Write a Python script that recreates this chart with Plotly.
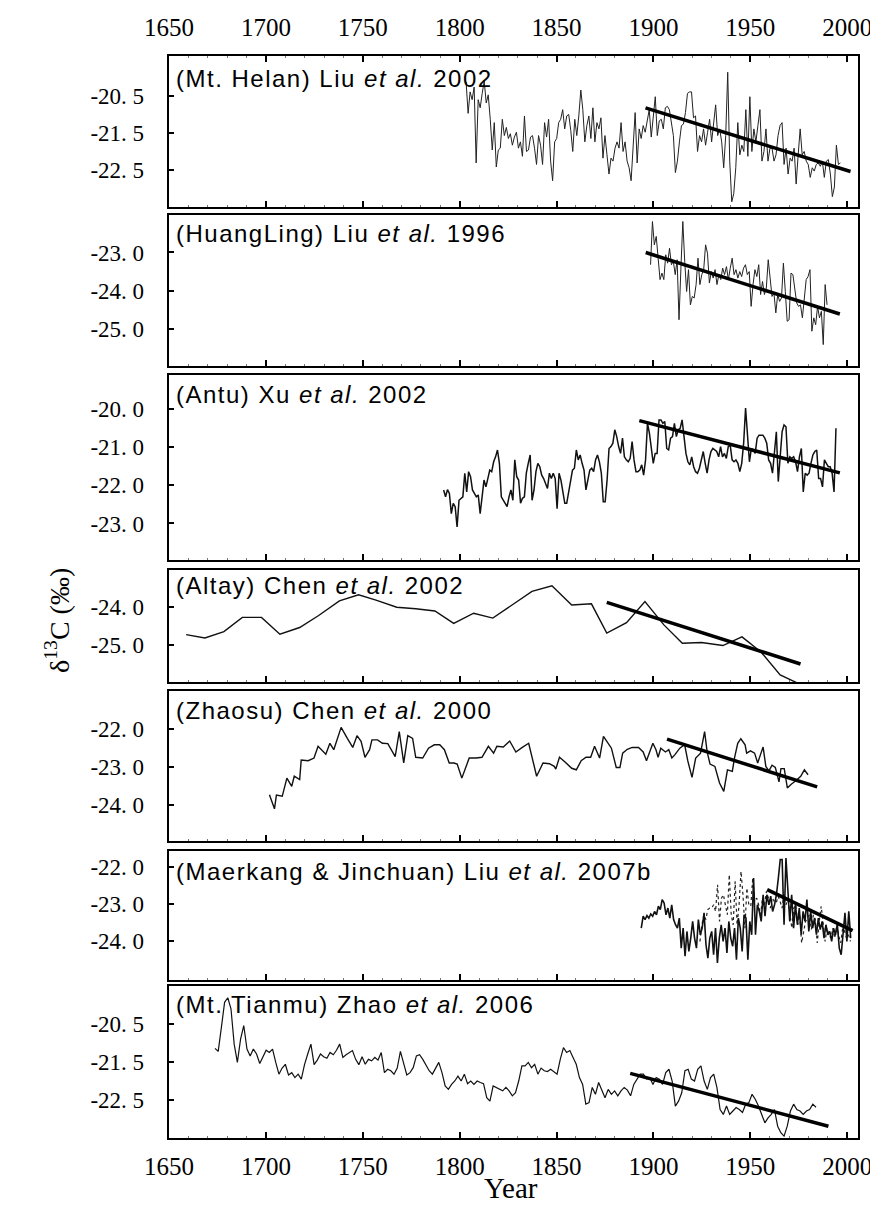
import numpy as np
import plotly.graph_objects as go

W, H = 878, 1208

# ---------------- data ----------------
tick_years = [1650, 1700, 1750, 1800, 1850, 1900, 1950, 2000]

# Panel 1: Mt. Helan (Liu et al. 2002)
helan_span = [1803.3, 1996.5]
helan_d13c = [-20.12, -20.97, -20.39, -20.60, -20.26, -22.31, -20.60, -20.82, -20.43, -20.10,
              -20.69, -20.47, -21.13, -21.96, -21.22, -22.42, -21.96, -21.91, -21.13, -21.57,
              -21.35, -21.65, -21.52, -21.83, -21.61, -21.48, -21.91, -21.74, -22.13, -21.04,
              -22.00, -21.96, -21.61, -21.57, -21.91, -22.35, -21.57, -21.83, -22.35, -21.22,
              -21.61, -21.13, -22.26, -22.79, -21.74, -21.65, -21.22, -21.13, -20.87, -21.39,
              -21.04, -21.00, -21.43, -22.00, -21.13, -21.57, -21.04, -20.34, -20.87, -21.74,
              -21.30, -21.04, -21.65, -20.82, -21.74, -21.22, -21.39, -21.09, -22.18, -21.57,
              -22.09, -22.61, -22.18, -22.26, -21.91, -21.74, -21.91, -21.22, -22.00, -21.74,
              -22.26, -22.44, -22.79, -21.91, -20.95, -22.31, -21.39, -21.65, -21.30, -21.48,
              -21.13, -20.87, -21.61, -21.04, -20.52, -21.57, -21.17, -21.13, -21.39, -20.82,
              -20.78, -20.87, -21.22, -21.57, -22.57, -22.26, -21.74, -21.30, -21.26, -20.95,
              -20.43, -20.39, -20.39, -21.09, -21.04, -22.00, -21.57, -21.74, -21.39, -21.83,
              -21.48, -21.13, -21.74, -21.22, -20.74, -21.57, -21.39, -21.74, -22.44, -21.57,
              -19.86, -22.26, -23.36, -23.14, -22.44, -21.22, -22.09, -21.83, -22.00, -20.87,
              -22.13, -20.52, -22.00, -21.39, -21.74, -21.30, -20.87, -22.26, -22.00, -21.39,
              -22.26, -21.91, -21.91, -22.26, -22.09, -21.57, -21.30, -21.22, -22.35, -21.91,
              -22.61, -22.18, -22.26, -21.91, -22.88, -22.09, -21.39, -22.09, -22.00, -22.26,
              -22.35, -22.70, -22.44, -22.53, -22.35, -22.31, -22.40, -22.26, -22.70, -22.26,
              -22.22, -22.61, -23.22, -22.96, -21.83, -22.35, -22.31]
helan_trend_year = [1895.9, 2001.7]
helan_trend_d13c = [-20.82, -22.54]

# Panel 2: HuangLing (Liu et al. 1996)
huangling_span = [1898.5, 1989.6]
huangling_d13c = [-23.32, -22.19, -22.80, -22.58, -23.15, -23.71, -23.54, -23.71, -23.06, -23.28,
                  -22.89, -23.32, -23.23, -23.58, -23.19, -24.76, -23.41, -22.19, -23.23, -24.02,
                  -23.45, -24.37, -24.15, -24.19, -23.84, -23.15, -23.84, -23.58, -23.45, -22.80,
                  -23.02, -23.80, -23.50, -23.67, -23.45, -23.84, -23.58, -23.71, -23.41, -23.58,
                  -23.37, -23.71, -23.41, -23.15, -23.58, -23.45, -23.67, -23.50, -23.63, -23.41,
                  -23.32, -23.58, -23.50, -24.41, -23.84, -23.45, -23.63, -23.32, -24.10, -23.76,
                  -24.10, -23.93, -23.19, -23.67, -24.15, -24.06, -24.58, -24.10, -24.28, -24.19,
                  -23.28, -24.02, -24.80, -24.76, -23.54, -23.58, -24.02, -24.32, -24.41, -24.37,
                  -24.71, -24.28, -23.71, -23.63, -23.45, -25.06, -24.71, -24.89, -24.41, -24.71,
                  -24.54, -25.41, -23.84, -24.37]
huangling_trend_year = [1896.0, 1996.2]
huangling_trend_d13c = [-23.00, -24.61]

# Panel 3: Antu (Xu et al. 2002)
antu_span = [1791.7, 1994.2]
antu_d13c = [-22.12, -22.30, -22.11, -22.21, -22.74, -22.47, -22.56, -23.09, -22.39, -22.34,
             -22.30, -21.68, -22.17, -21.64, -21.77, -22.12, -22.21, -22.30, -22.25, -22.74,
             -22.30, -21.86, -22.04, -21.82, -21.60, -21.64, -21.38, -21.25, -21.07, -21.42,
             -22.30, -22.39, -22.47, -22.56, -22.30, -22.12, -22.39, -21.33, -21.77, -21.86,
             -22.47, -22.34, -22.30, -21.68, -21.42, -21.20, -22.39, -22.12, -21.64, -21.42,
             -21.51, -21.73, -21.82, -21.95, -22.08, -21.68, -21.82, -21.68, -21.82, -22.61,
             -21.68, -21.86, -22.17, -22.47, -22.47, -22.17, -21.95, -21.60, -21.55, -21.07,
             -21.33, -21.20, -21.42, -21.60, -22.12, -21.86, -21.60, -21.55, -21.64, -21.33,
             -21.20, -21.38, -21.68, -22.43, -22.43, -21.86, -21.03, -20.98, -20.89, -20.54,
             -20.72, -20.98, -21.16, -20.76, -21.25, -21.33, -21.38, -21.29, -20.85, -21.33,
             -21.64, -21.64, -21.60, -21.46, -21.73, -21.33, -20.37, -20.63, -20.98, -21.42,
             -21.16, -21.16, -20.28, -20.28, -20.37, -20.32, -21.03, -21.07, -20.76, -20.72,
             -20.37, -20.72, -20.54, -20.50, -20.28, -20.68, -21.16, -21.38, -21.46, -21.25,
             -21.51, -21.64, -21.68, -21.55, -21.29, -21.11, -21.42, -21.68, -21.33, -21.11,
             -21.03, -21.07, -21.11, -21.25, -20.98, -21.25, -21.16, -21.29, -20.98, -20.94,
             -21.33, -21.38, -21.33, -21.42, -21.64, -21.42, -20.89, -19.97, -20.63, -21.38,
             -21.03, -21.07, -21.16, -20.76, -20.68, -20.68, -20.68, -20.76, -20.89, -21.33,
             -21.42, -21.68, -21.16, -20.59, -21.90, -21.16, -20.59, -20.41, -20.46, -21.42,
             -21.25, -21.29, -21.25, -21.38, -21.64, -21.25, -21.03, -22.17, -21.68, -21.73,
             -21.68, -21.42, -21.20, -21.11, -21.07, -21.82, -21.82, -22.04, -21.33, -21.42,
             -21.51, -21.51, -21.68, -22.17, -20.50]
antu_trend_year = [1892.7, 1996.2]
antu_trend_d13c = [-20.30, -21.67]

# Panel 4: Altay (Chen et al. 2002)
altay_year = [1658.8, 1668.5, 1678.3, 1687.8, 1697.7, 1707.2, 1717.4, 1727.2, 1737.9, 1747.8,
              1756.8, 1767.5, 1777.3, 1787.2, 1796.9, 1807.2, 1817.1, 1827.4, 1837.3, 1847.6,
              1857.8, 1868.0, 1875.9, 1886.1, 1895.6, 1905.4, 1914.9, 1924.8, 1935.8, 1945.7,
              1955.5, 1965.4, 1974.4]
altay_d13c = [-24.73, -24.82, -24.65, -24.27, -24.27, -24.72, -24.54, -24.22, -23.83, -23.67,
              -23.81, -24.00, -24.04, -24.10, -24.43, -24.16, -24.29, -23.94, -23.58, -23.43,
              -23.94, -23.91, -24.69, -24.41, -23.85, -24.47, -24.96, -24.94, -25.02, -24.79,
              -25.19, -25.80, -26.02]
altay_trend_year = [1875.9, 1975.9]
altay_trend_d13c = [-23.87, -25.51]

# Panel 5: Zhaosu (Chen et al. 2000)
zhaosu_year = [1701.8, 1704.4, 1705.4, 1708.4, 1710.8, 1713.3, 1714.6, 1717.4, 1718.2, 1721.8,
               1724.8, 1726.9, 1730.9, 1733.0, 1735.0, 1738.8, 1742.0, 1744.8, 1747.0, 1749.1,
               1751.1, 1753.5, 1754.7, 1757.6, 1760.1, 1762.9, 1766.7, 1768.8, 1771.1, 1773.2,
               1775.7, 1777.3, 1780.9, 1783.9, 1786.9, 1789.7, 1792.1, 1794.6, 1797.0,
               1798.7, 1801.1, 1804.9, 1808.5, 1811.5, 1814.8, 1817.5, 1819.2, 1822.5, 1825.8,
               1829.0, 1832.3, 1835.6, 1839.7, 1843.0, 1846.3, 1848.8, 1849.6, 1851.5, 1854.5,
               1857.8, 1860.2, 1862.7, 1865.2, 1867.6, 1869.6, 1870.9, 1872.2, 1874.2, 1876.7,
               1878.3, 1880.8, 1882.7, 1884.1, 1886.5, 1889.0, 1892.3, 1894.7, 1896.4, 1899.7,
               1901.3, 1902.4, 1903.8, 1906.2, 1907.9, 1909.5, 1911.1, 1913.6, 1916.1, 1917.7,
               1919.9, 1921.8, 1924.3, 1926.4, 1927.7, 1929.2, 1931.7, 1934.1, 1936.3, 1938.2,
               1940.7, 1941.9, 1943.5, 1945.1, 1947.3, 1948.1, 1950.1, 1952.2, 1953.8, 1955.5,
               1956.6, 1958.0, 1959.6, 1961.2, 1962.9, 1964.8, 1965.8, 1967.5, 1969.1, 1971.1,
               1973.5, 1976.0, 1977.9, 1979.8]
zhaosu_d13c = [-23.74, -24.11, -23.75, -23.78, -23.30, -23.52, -23.25, -23.34, -22.82, -22.84,
               -22.77, -22.46, -22.67, -22.38, -22.55, -21.96, -22.25, -22.49, -22.18, -22.33,
               -22.75, -22.55, -22.29, -22.29, -22.38, -22.39, -22.73, -22.07, -22.90, -22.18,
               -22.25, -22.75, -22.77, -22.51, -22.42, -22.42, -22.55, -22.90, -22.90,
               -22.93, -23.30, -22.77, -22.77, -22.75, -22.46, -22.64, -22.46, -22.48, -22.32,
               -22.61, -22.49, -22.38, -23.25, -22.90, -22.92, -22.99, -23.06, -22.75, -22.88,
               -23.04, -23.08, -22.84, -22.75, -22.75, -22.46, -22.60, -22.77, -22.20, -22.38,
               -22.51, -23.02, -23.02, -22.64, -22.54, -22.49, -22.49, -22.61, -22.84, -22.38,
               -22.55, -22.75, -22.51, -22.61, -22.55, -22.77, -22.68, -22.51, -22.42, -22.84,
               -23.28, -22.77, -22.64, -22.07, -22.60, -22.93, -22.99, -23.43, -23.65, -23.08,
               -23.12, -22.75, -22.38, -22.26, -22.42, -22.64, -22.58, -22.64, -22.90, -22.64,
               -22.48, -22.99, -23.11, -22.96, -23.02, -23.40, -23.05, -23.05, -23.56, -23.46,
               -23.37, -23.25, -23.08, -23.21]
zhaosu_trend_year = [1907.0, 1984.5]
zhaosu_trend_d13c = [-22.27, -23.53]

# Panel 6: Maerkang & Jinchuan (Liu et al. 2007b)
maerkang_span = [1893.7, 2001.8]
maerkang_d13c = [-23.65, -23.33, -23.42, -23.31, -23.38, -23.27, -23.33, -23.20, -23.29, -23.06,
                 -23.15, -22.88, -22.97, -23.29, -23.11, -23.38, -23.02, -23.42, -23.56, -23.65,
                 -23.38, -24.19, -23.65, -24.41, -23.74, -24.28, -23.92, -23.47, -23.92, -24.19,
                 -23.42, -23.83, -23.65, -23.24, -24.10, -24.46, -23.92, -23.74, -24.37, -23.65,
                 -24.59, -23.92, -23.56, -24.01, -23.65, -24.32, -23.47, -23.92, -24.14, -23.65,
                 -24.50, -23.38, -23.65, -24.28, -23.29, -23.38, -24.50, -23.47, -23.83, -22.30,
                 -23.83, -23.02, -23.20, -23.47, -22.75, -23.33, -22.75, -23.02, -22.79, -23.20,
                 -23.02, -22.75, -22.30, -21.80, -21.80, -23.56, -21.76, -22.75, -23.47, -22.75,
                 -23.65, -23.02, -23.56, -23.11, -23.83, -23.20, -23.47, -22.88, -23.74, -23.20,
                 -23.65, -23.38, -23.83, -23.38, -23.69, -23.47, -23.92, -23.56, -23.83, -23.74,
                 -24.01, -23.65, -23.83, -23.56, -24.19, -24.37, -23.74, -23.24, -24.01, -23.20,
                 -23.92]
jinchuan_span = [1924.0, 2001.7]
jinchuan_d13c = [-24.01, -23.56, -23.29, -23.42, -23.15, -23.11, -23.11, -23.02, -23.20, -22.48,
                 -23.47, -22.84, -22.75, -23.02, -23.29, -22.21, -23.29, -23.56, -22.39, -23.56,
                 -23.02, -22.12, -22.75, -23.65, -22.57, -23.02, -23.06, -22.30, -22.93, -22.84,
                 -23.02, -23.29, -22.84, -23.02, -22.66, -22.84, -23.11, -22.84, -22.93, -22.97,
                 -22.79, -22.93, -23.11, -22.75, -23.02, -22.88, -23.29, -23.65, -23.11, -23.02,
                 -23.56, -23.29, -24.05, -23.74, -23.47, -23.38, -23.29, -23.69, -23.29, -23.42,
                 -24.05, -23.47, -23.06, -23.51, -24.01, -23.65, -23.83, -23.92, -23.65, -23.92,
                 -23.56, -23.87, -24.05, -23.65, -23.74, -23.92, -23.83, -24.01]
maerkang_trend_year = [1958.7, 2002.8]
maerkang_trend_d13c = [-22.61, -23.72]

# Panel 7: Mt. Tianmu (Zhao et al. 2006)
tianmu_span = [1673.7, 1983.9]
tianmu_d13c = [-21.14, -21.22, -20.59, -19.93, -19.81, -20.10, -21.03, -21.51, -20.90, -20.54,
               -21.16, -21.34, -21.16, -21.29, -21.54, -21.34, -21.19, -21.25, -21.16, -21.51,
               -21.82, -21.66, -21.56, -21.84, -21.78, -21.91, -21.82, -21.95, -21.57, -21.29,
               -21.03, -21.57, -21.45, -21.29, -21.36, -21.40, -21.25, -21.31, -21.19, -21.03,
               -21.38, -21.31, -21.25, -21.20, -21.43, -21.57, -21.36, -21.56, -21.43, -21.47,
               -21.38, -21.45, -21.25, -21.78, -21.69, -21.73, -21.82, -21.66, -21.22, -21.54,
               -21.84, -21.78, -21.65, -21.34, -21.31, -21.43, -21.60, -21.73, -21.82, -21.65,
               -21.51, -21.78, -22.13, -22.22, -22.09, -22.00, -21.87, -22.00, -21.82, -22.07,
               -22.00, -22.09, -22.00, -22.04, -22.07, -22.44, -22.53, -22.13, -22.17, -22.22,
               -22.26, -22.17, -22.26, -22.39, -22.31, -22.00, -21.60, -21.60, -21.51, -21.65,
               -21.56, -21.82, -21.66, -21.73, -21.75, -21.69, -21.75, -21.82, -21.43, -21.12,
               -21.25, -21.20, -21.38, -21.56, -21.91, -22.09, -22.61, -22.57, -22.17, -22.35,
               -22.04, -22.26, -22.44, -22.22, -22.35, -22.26, -22.39, -22.26, -22.17, -22.24,
               -22.39, -22.09, -21.95, -21.82, -21.82, -21.95, -21.91, -22.09, -21.91, -21.95,
               -22.09, -21.78, -21.69, -22.00, -22.66, -22.53, -22.31, -21.73, -21.69, -21.95,
               -22.00, -21.69, -21.60, -22.00, -22.22, -21.91, -21.82, -22.17, -22.75, -22.88,
               -22.66, -22.88, -22.79, -22.70, -22.75, -22.83, -22.61, -22.57, -22.35, -22.48,
               -22.66, -22.88, -23.10, -22.97, -22.88, -22.75, -23.19, -23.36, -23.45, -23.19,
               -22.79, -22.61, -22.75, -22.79, -22.88, -22.79, -22.75, -22.61, -22.69]
tianmu_trend_year = [1888.0, 1990.3]
tianmu_trend_d13c = [-21.80, -23.19]

labels = ["(Mt. Helan) Liu <i>et al.</i> 2002",
          "(HuangLing) Liu <i>et al.</i> 1996",
          "(Antu) Xu <i>et al.</i> 2002",
          "(Altay) Chen <i>et al.</i> 2002",
          "(Zhaosu) Chen <i>et al.</i> 2000",
          "(Maerkang &amp; Jinchuan) Liu <i>et al.</i> 2007b",
          "(Mt. Tianmu) Zhao <i>et al.</i> 2006"]

ytick_vals = [[-20.5, -21.5, -22.5], [-23.0, -24.0, -25.0], [-20.0, -21.0, -22.0, -23.0],
              [-24.0, -25.0], [-22.0, -23.0, -24.0], [-22.0, -23.0, -24.0], [-20.5, -21.5, -22.5]]
ytick_text = [["-20. 5", "-21. 5", "-22. 5"], ["-23. 0", "-24. 0", "-25. 0"],
              ["-20. 0", "-21. 0", "-22. 0", "-23. 0"], ["-24. 0", "-25. 0"],
              ["-22. 0", "-23. 0", "-24. 0"], ["-22. 0", "-23. 0", "-24. 0"],
              ["-20. 5", "-21. 5", "-22. 5"]]
y_ranges = [[-23.5, -19.42], [-25.97, -22.02], [-23.96, -19.10], [-25.99, -23.01],
            [-24.96, -21.0], [-25.05, -21.57], [-23.5, -19.5]]

# ---------------- layout geometry (pixels) ----------------
x_left, x_right = 142, 863
panel_px = [(48, 199), (207, 358), (367, 552), (562, 674), (683, 833), (843, 972), (978, 1130)]
label_off = [23, 18, 19, 15, 19, 20, 18]
x_range = [1649.8, 2005.4]

series = [
    [dict(x=np.linspace(*helan_span, len(helan_d13c)), y=helan_d13c, w=1.0, dash="solid", c="#222")],
    [dict(x=np.linspace(*huangling_span, len(huangling_d13c)), y=huangling_d13c, w=1.0, dash="solid", c="#222")],
    [dict(x=np.linspace(*antu_span, len(antu_d13c)), y=antu_d13c, w=1.5, dash="solid", c="#111")],
    [dict(x=altay_year, y=altay_d13c, w=1.4, dash="solid", c="#111")],
    [dict(x=zhaosu_year, y=zhaosu_d13c, w=1.4, dash="solid", c="#111")],
    [dict(x=np.linspace(*jinchuan_span, len(jinchuan_d13c)), y=jinchuan_d13c, w=1.2, dash="dot", c="#222"),
     dict(x=np.linspace(*maerkang_span, len(maerkang_d13c)), y=maerkang_d13c, w=1.6, dash="solid", c="#111")],
    [dict(x=np.linspace(*tianmu_span, len(tianmu_d13c)), y=tianmu_d13c, w=1.2, dash="solid", c="#111")],
]
trends = [(helan_trend_year, helan_trend_d13c), (huangling_trend_year, huangling_trend_d13c),
          (antu_trend_year, antu_trend_d13c), (altay_trend_year, altay_trend_d13c),
          (zhaosu_trend_year, zhaosu_trend_d13c), (maerkang_trend_year, maerkang_trend_d13c),
          (tianmu_trend_year, tianmu_trend_d13c)]

fig = go.Figure()
serif = "Liberation Serif, Times New Roman, serif"
sans = "Liberation Sans, Arial, sans-serif"

for i in range(7):
    n = i + 1
    xa = "x" if n == 1 else f"x{n}"
    ya = "y" if n == 1 else f"y{n}"
    for s in series[i]:
        fig.add_trace(go.Scatter(x=s["x"], y=s["y"], mode="lines", xaxis=xa, yaxis=ya,
                                 line=dict(color=s["c"], width=s["w"], dash=s["dash"]),
                                 showlegend=False, cliponaxis=True))
    tx, ty = trends[i]
    fig.add_trace(go.Scatter(x=tx, y=ty, mode="lines", xaxis=xa, yaxis=ya,
                             line=dict(color="black", width=3.5), showlegend=False))

    top, bot = panel_px[i]
    ydom = [1 - bot / H, 1 - top / H]
    xkey = "xaxis" if n == 1 else f"xaxis{n}"
    ykey = "yaxis" if n == 1 else f"yaxis{n}"
    xcfg = dict(domain=[x_left / W, x_right / W], range=x_range, anchor=ya,
                tickvals=tick_years, ticks="inside", ticklen=6, tickwidth=1.5, tickcolor="black",
                minor=dict(ticks="inside", ticklen=2, tickwidth=1, dtick=10, tickcolor="#777"),
                showline=True, linewidth=2, linecolor="black", mirror=True,
                showgrid=False, zeroline=False, showticklabels=False,
                ticklabeloverflow="allow",
                tickfont=dict(family=serif, size=25, color="black"))
    if n == 1:
        xcfg.update(side="top", showticklabels=True, mirror="ticks", ticklabelstandoff=8)
    if n == 7:
        xcfg.update(showticklabels=True, ticklabelstandoff=5)
    ycfg = dict(domain=ydom, range=y_ranges[i], anchor=xa,
                tickvals=ytick_vals[i], ticktext=ytick_text[i],
                ticks="inside", ticklen=5, tickwidth=1.5, tickcolor="black",
                showline=True, linewidth=2, linecolor="black", mirror=True,
                showgrid=False, zeroline=False, ticklabelstandoff=18,
                tickfont=dict(family=serif, size=23, color="black"))
    fig.update_layout({xkey: xcfg, ykey: ycfg})

    ph = bot - top
    fig.add_annotation(text=f'<span style="letter-spacing:1.5px">{labels[i]}</span>',
                       xref=f"{xa} domain", yref=f"{ya} domain",
                       x=6 / (x_right - x_left), y=1 - label_off[i] / ph,
                       xanchor="left", yanchor="middle", showarrow=False,
                       font=dict(family=sans, size=24, color="black"))

fig.add_annotation(text="δ<sup>13</sup>C (‰)", xref="paper", yref="paper",
                   x=25 / W, y=1 - 612 / H, textangle=-90, showarrow=False,
                   xanchor="center", yanchor="middle",
                   font=dict(family=serif, size=28, color="black"))
fig.add_annotation(text="Year", xref="paper", yref="paper",
                   x=500 / W, y=1 - 1180 / H, showarrow=False,
                   xanchor="center", yanchor="middle", borderpad=0,
                   font=dict(family=serif, size=29, color="black"))

fig.update_layout(width=W, height=H, margin=dict(l=0, r=0, t=0, b=0),
                  paper_bgcolor="white", plot_bgcolor="white", showlegend=False)

fig.write_html("out.html")
